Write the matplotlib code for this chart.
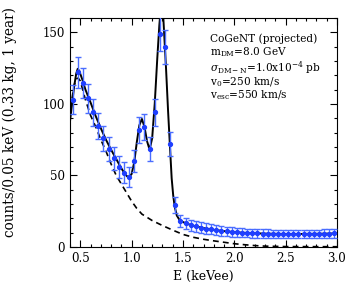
import numpy as np
import matplotlib
matplotlib.use("Agg")
import matplotlib.pyplot as plt
from matplotlib.ticker import MultipleLocator

plt.rcParams["font.family"] = "DejaVu Serif"
plt.rcParams["mathtext.fontset"] = "dejavuserif"

# projected data: bin centres every 0.05 keVee
energy = np.arange(0.425, 3.0, 0.05)
counts = [103, 122, 114.5, 104, 94, 84.5, 76, 68.5, 62, 56, 52, 49,
          60, 82, 84, 68.5, 94, 149, 140, 72, 29.5, 18, 16.5, 15.3,
          14.4, 13.6, 12.9, 12.3, 11.8, 11.3, 10.9, 10.6, 10.3, 10.0,
          9.8, 9.6, 9.5, 9.4, 9.3, 9.2, 9.2, 9.1, 9.1, 9.1, 9.1, 9.1,
          9.1, 9.2, 9.2, 9.3, 9.4, 9.5]
errors = [10.1, 11.0, 10.7, 10.2, 9.7, 9.2, 8.7, 8.3, 7.9, 7.5, 7.2, 7.0,
          7.7, 9.1, 9.2, 8.3, 9.7, 12.2, 11.8, 8.5, 5.4, 4.2, 4.1, 3.9,
          3.8, 3.7, 3.6, 3.5, 3.4, 3.4, 3.3, 3.3, 3.2, 3.2, 3.1, 3.1,
          3.1, 3.1, 3.0, 3.0, 3.0, 3.0, 3.0, 3.0, 3.0, 3.0, 3.0, 3.0,
          3.0, 3.0, 3.1, 3.1]

# total model (solid)
e_total = [0.40, 0.42, 0.44, 0.46, 0.475, 0.49, 0.52, 0.55, 0.60, 0.65,
           0.70, 0.75, 0.80, 0.85, 0.90, 0.94, 0.97, 1.00, 1.025, 1.05,
           1.075, 1.10, 1.125, 1.15, 1.175, 1.20, 1.225, 1.25, 1.27, 1.285,
           1.295, 1.305, 1.32, 1.335, 1.355, 1.375, 1.39, 1.405, 1.42, 1.44,
           1.47, 1.52, 1.60, 1.70, 1.80, 1.90, 2.00, 2.10, 2.20, 2.30,
           2.40, 2.50, 2.60, 2.70, 2.80, 2.90, 3.00]
n_total = [88, 100, 112, 121, 124.5, 123, 117, 110, 101, 91.5,
           83, 75, 68, 61.5, 55, 50.5, 48.5, 51, 59, 73,
           85, 89.5, 84, 74, 68, 76, 100, 132, 155, 168,
           171, 165, 145, 125, 95, 68, 48, 36, 28, 22,
           18.5, 16.8, 14.8, 13.2, 12.0, 11.1, 10.4, 9.9, 9.6, 9.35,
           9.2, 9.1, 9.1, 9.15, 9.2, 9.35, 9.55]

# dark matter signal (dashed)
e_dm = [0.40, 0.42, 0.44, 0.46, 0.48, 0.50, 0.55, 0.60, 0.65, 0.70,
        0.75, 0.80, 0.85, 0.90, 0.95, 1.00, 1.05, 1.10, 1.20, 1.30,
        1.40, 1.50, 1.60, 1.70, 1.80, 1.90, 2.00, 2.10, 2.20, 2.30,
        2.50, 3.00]
n_dm = [90, 104, 113, 117.5, 118, 116, 103, 92, 84, 75,
        67, 58, 50, 44, 38, 32, 27, 23, 18.5, 15,
        11.8, 8.8, 6.8, 5.4, 4.3, 3.3, 2.3, 1.6, 1.0, 0.6,
        0.3, 0.2]

fig = plt.figure(figsize=(3.49, 2.89), dpi=100)
ax = fig.add_axes([0.2006, 0.1453, 0.765, 0.7924])

ax.plot(e_total, n_total, color="black", lw=1.4, zorder=3)
ax.plot(e_dm, n_dm, color="black", lw=1.2, ls=(0, (3.5, 2.5)), zorder=3)
ax.errorbar(energy, counts, yerr=errors, fmt="o", ms=2.8, color="#1f3fff",
            ecolor="#4a6dff", elinewidth=1.0, capsize=2.2, capthick=1.0, zorder=4)

ax.set_xlim(0.4, 3.0)
ax.set_ylim(0, 160)
ax.xaxis.set_major_locator(MultipleLocator(0.5))
ax.xaxis.set_minor_locator(MultipleLocator(0.1))
ax.yaxis.set_major_locator(MultipleLocator(50))
ax.yaxis.set_minor_locator(MultipleLocator(10))
ax.tick_params(which="both", direction="in", top=True, right=True, labelsize=8.5)
ax.tick_params(which="major", length=5, width=0.8)
ax.tick_params(which="minor", length=2.5, width=0.8)
ax.set_xticks([0.5, 1.0, 1.5, 2.0, 2.5, 3.0])
ax.set_xticklabels(["0.5", "1.0", "1.5", "2.0", "2.5", "3.0"])

ax.set_xlabel("E (keVee)", fontsize=9)
ax.set_ylabel("counts/0.05 keV (0.33 kg, 1 year)", fontsize=9.8)
ax.yaxis.set_label_coords(-0.2, 0.545)

lines = ["CoGeNT (projected)",
         r"m$_{\rm DM}$=8.0 GeV",
         r"$\sigma_{\rm DM-N}$=1.0x10$^{-4}$ pb",
         r"v$_0$=250 km/s",
         r"v$_{\rm esc}$=550 km/s"]
ys = [0.91, 0.85, 0.785, 0.72, 0.665]
for t, y in zip(lines, ys):
    ax.text(0.524, y, t, transform=ax.transAxes, fontsize=7.6, va="center")

fig.savefig("out.png", dpi=100)
